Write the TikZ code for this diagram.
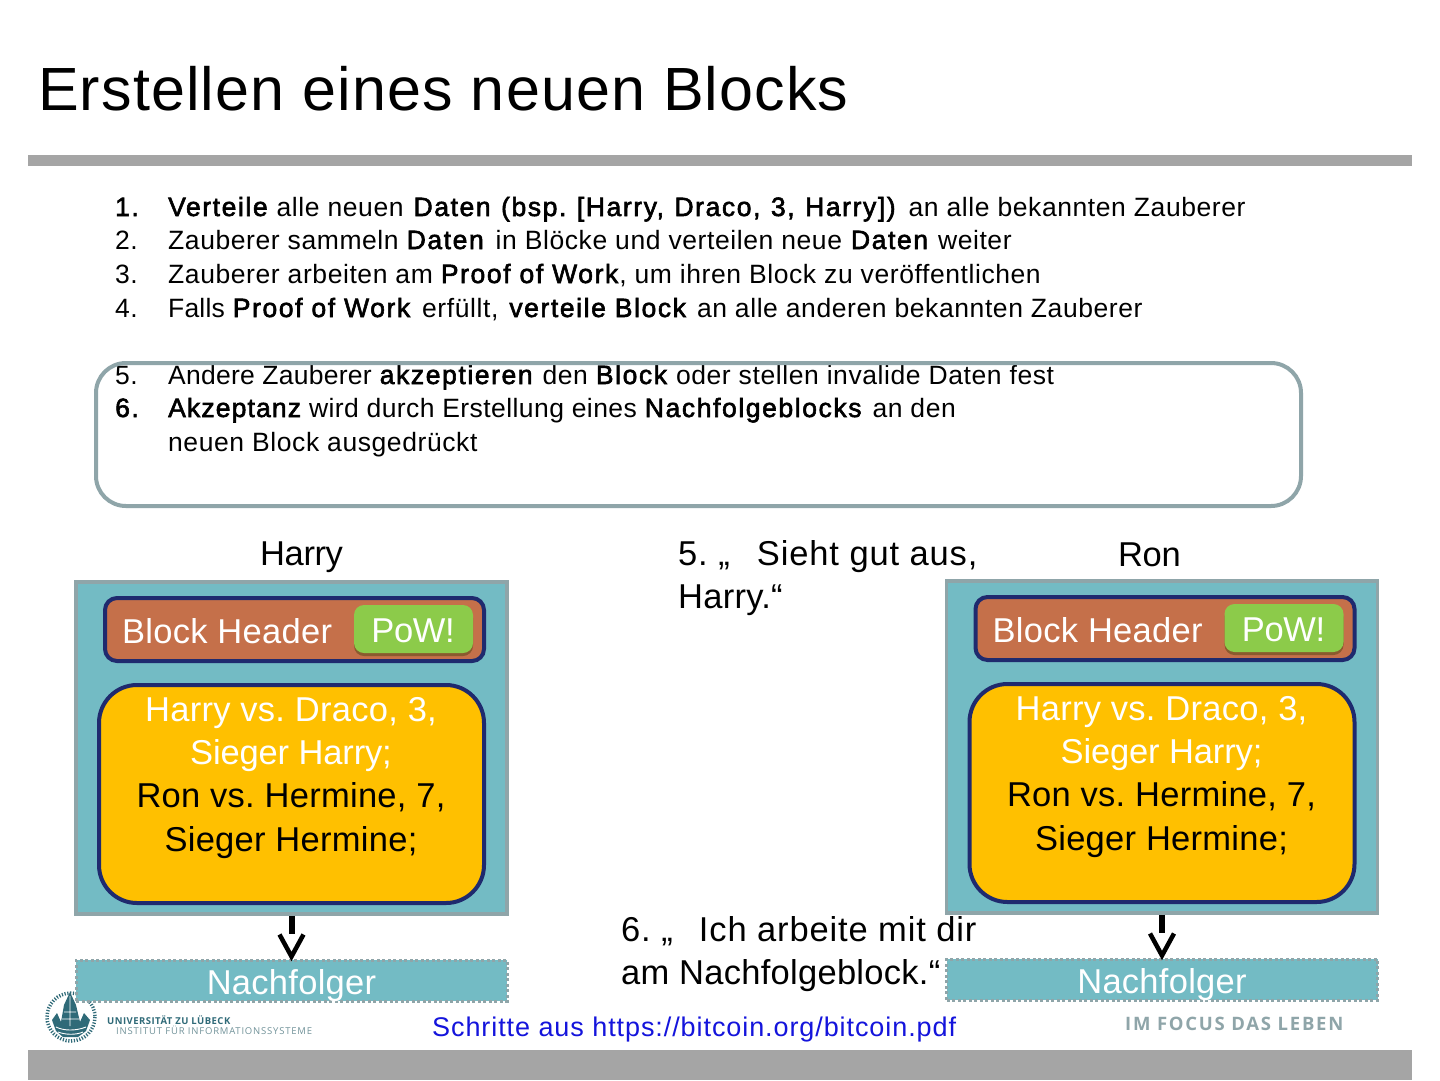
\documentclass[tikz,border=0pt]{standalone}
\usepackage{fontspec}
\setmainfont{Liberation Sans}[LetterSpace=2.2]
\newfontfamily\bfx{Liberation Sans}[FakeBold=2.2,LetterSpace=6]
\newfontfamily\bfy{Liberation Sans}[FakeBold=2.2,LetterSpace=4.3]
\newfontfamily\narA{Liberation Sans}[LetterSpace=0.95]
\newfontfamily\narB{Liberation Sans}[LetterSpace=0.7]
\newfontfamily\narC{Liberation Sans}[LetterSpace=1.6]
\newfontfamily\titlef{Liberation Sans}[LetterSpace=1.85]
\newfontfamily\bigf{Liberation Sans}[LetterSpace=0.8]
\newfontfamily\widef{Liberation Sans}[LetterSpace=2.5]
\newfontfamily\tightf{Liberation Sans}[LetterSpace=-1.2]
\newfontfamily\midf{Liberation Sans}[LetterSpace=-0.4]
\newfontfamily\linkf{Liberation Sans}[LetterSpace=3.4]
\newfontfamily\unif{Open Sans}[LetterSpace=5]
\newfontfamily\ifisf{Open Sans}[LetterSpace=8.4]
\newfontfamily\focusf{Open Sans}[LetterSpace=9.4]
\newcommand{\B}[1]{{\bfx #1}}
\newcommand{\G}[1]{\hspace{#1pt}}
\usetikzlibrary{calc}
\definecolor{bar}{HTML}{A5A5A5}
\definecolor{tealf}{HTML}{73BBC4}
\definecolor{greyt}{HTML}{8FA5A9}
\definecolor{navy}{HTML}{1F2A6E}
\definecolor{brickf}{HTML}{C5704A}
\definecolor{powg}{HTML}{8CCB4A}
\definecolor{powsh}{HTML}{8A5A2E}
\definecolor{gold}{HTML}{FFC000}
\definecolor{linkb}{HTML}{1414DC}
\definecolor{logot}{HTML}{2F6A78}
\tikzset{
 x=1pt,y=-1pt,
 listline/.style={anchor=base west,inner sep=0,font=\frenchspacing\fontsize{26.5}{30}\selectfont},
 boxline/.style={anchor=base,inner sep=0,font=\bigf\frenchspacing\fontsize{34.5}{40}\selectfont},
 block/.style={draw=greyt,line width=3.5,fill=tealf,inner sep=0,minimum width=431,minimum height=332},
 header/.style={draw=navy,line width=4,fill=brickf,rounded corners=12,inner sep=0,minimum width=379,minimum height=63},
 pow/.style={fill=powg,rounded corners=10,inner sep=0,minimum width=119,minimum height=48},
 powshadow/.style={fill=powsh,rounded corners=10,inner sep=0,minimum width=119,minimum height=48},
 data/.style={draw=navy,line width=4,fill=gold,rounded corners=38,inner sep=0,minimum width=385,minimum height=218},
 next/.style={draw=greyt,line width=3,dash pattern=on 3pt off 2.5pt,fill=tealf,inner sep=0,minimum width=431,minimum height=41},
 shaft/.style={line width=6,draw=black},
 chev/.style={line width=4.5,draw=black,line join=miter},
 caption/.style={anchor=base west,inner sep=0,font=\bigf\frenchspacing\fontsize{34.5}{40}\selectfont},
 captionw/.style={anchor=base west,inner sep=0,font=\widef\frenchspacing\fontsize{34.5}{40}\selectfont},
 captiont/.style={anchor=base west,inner sep=0,font=\tightf\frenchspacing\fontsize{34.5}{40}\selectfont},
}
\newcommand{\blockgroup}[3]{%
 \node[block] (#3b) at (#1+291.5,#2+748) {};
 \node[header] (#3h) at (#1+294.5,#2+629.5) {};
 \node[powshadow] (#3ps) at (#1+413.5,#2+632) {};
 \node[pow] (#3p) at (#1+413.5,#2+629) {};
 \node[captiont,anchor=base,text=white] (#3pt) at (#1+413,#2+642) {PoW!};
 \node[caption,text=white] (#3ht) at (#1+122,#2+643) {Block Header};
 \node[data] (#3d) at (#1+291.5,#2+794) {};
 \node[boxline,text=white] (#3l1) at (#1+291,#2+721) {Harry vs. Draco, 3,};
 \node[boxline,text=white] (#3l2) at (#1+291,#2+764) {\midf Sieger Harry;};
 \node[boxline] (#3l3) at (#1+291,#2+807) {Ron vs. Hermine, 7,};
 \node[boxline] (#3l4) at (#1+291,#2+851) {Sieger Hermine;};
 \node[next] (#3n) at (#1+291.5,#2+980.5) {};
 \node[boxline,text=white] (#3nt) at (#1+291.5,#2+994) {Nachfolger};
 \coordinate (#3s) at ($(#3b.south)+(0,18)$);
 \coordinate (#3ca) at ($(#3n.north)+(-12,-24)$);
 \coordinate (#3cb) at ($(#3n.north)+(12,-24)$);
 \draw[shaft] (#3b.south) -- (#3s);
 \draw[chev] (#3ca) -- ($(#3n.north)+(0,-2)$) -- (#3cb);
}
\begin{document}
\begin{tikzpicture}
\useasboundingbox (0,0) rectangle (1440,1080);
\fill[white] (0,0) rectangle (1440,1080);
\fill[bar] (28,155) rectangle (1412,166);
\fill[bar] (28,1050) rectangle (1412,1080);
\node[anchor=base west,inner sep=0,font=\titlef\fontsize{61}{70}\selectfont] (title) at (38,110) {Erstellen eines neuen Blocks};
\node[listline] (n1) at (115,216) {\B{1.}};
\node[listline] (t1) at (168,216) {\B{Verteile}\G{1} alle neuen\G{2} \B{\spaceskip=10.5pt Daten (bsp. [Harry, Draco, 3, Harry])}\G{5} an alle bekannten Zauberer};
\node[listline] (n2) at (115,249) {2.};
\node[listline] (t2) at (168,249) {Zauberer sammeln \B{Daten}\G{4} in Blöcke und verteilen neue\G{1} \B{Daten}\G{2} weiter};
\node[listline] (n3) at (115,283) {3.};
\node[listline] (t3) at (168,283) {Zauberer arbeiten am \B{Proof of Work}\G{1}, um ihren Block zu veröffentlichen};
\node[listline] (n4) at (115,317) {4.};
\node[listline] (t4) at (168,317) {{\narB Falls} \B{Proof of Work}\G{4} erfüllt,\G{3} \B{verteile Block}\G{3} an alle anderen bekannten Zauberer};
\node[listline] (n5) at (115,384) {5.};
\node[listline] (t5) at (168,384) {{\narA Andere Zauberer} \B{akzeptieren}\G{2} den \B{Block}\G{1} oder stellen invalide Daten fest};
\node[listline] (n6) at (115,417) {\B{6.}};
\node[listline] (t6) at (168,417) {{\bfy Akzeptanz} {\narC wird durch Erstellung eines} \B{Nachfolgeblocks}\G{3} an den};
\node[listline] (t7) at (168,451) {neuen Block ausgedrückt};
\draw[greyt,line width=4,rounded corners=30] (96,363) rectangle (1301,506);
\node[captiont] (harry) at (260,565) {Harry};
\node[captiont] (ron) at (1118,566) {Ron};
\node[captionw] (c5a) at (678,565) {5. „ \,\hspace{11pt}Sieht gut aus,};
\node[caption] (c5b) at (678,608) {Harry.“};
% logo (drawn first: the successor box overlaps its top)
\draw[logot,line width=3.5,dash pattern=on 1.2pt off 1.6pt] (71,1017) circle (24);
\fill[logot] (52,1020) -- (57,1013) -- (61,1022) -- (64,1005) -- (70,992) -- (76,1005) -- (80,1022) -- (84,1013) -- (90,1020) -- (86,1031) -- (78,1037) -- (63,1037) -- (56,1031) -- cycle;
\draw[white,line width=.9] (70,996) -- (70,1026) (56,1027) .. controls (64,1031) and (76,1031) .. (86,1027) (58,1032) .. controls (66,1035) and (76,1035) .. (83,1032) (64,1012) -- (76,1012) (62,1019) -- (79,1019);
\node[anchor=base west,inner sep=0,text=logot,font=\unif\bfseries\fontsize{9.5}{11}\selectfont] (uni) at (107,1024) {UNIVERSITÄT ZU LÜBECK};
\node[anchor=base west,inner sep=0,text=greyt!70!logot,font=\ifisf\fontsize{9.5}{11}\selectfont] (ifis) at (116,1034) {INSTITUT FÜR INFORMATIONSSYSTEME};
\node[anchor=base west,inner sep=0,text=greyt,font=\focusf\bfseries\fontsize{18.5}{22}\selectfont] (focus) at (1125,1030) {IM FOCUS DAS LEBEN};
\blockgroup{0}{0}{L}
\blockgroup{870.5}{-1}{R}
\node[captionw] (c6a) at (621,941) {6. „ \,\hspace{10pt}Ich arbeite mit dir};
\node[caption] (c6b) at (621,984) {am Nachfolgeblock.“};
\node[anchor=base west,inner sep=0,text=linkb,font=\linkf\fontsize{27}{30}\selectfont] (src) at (432,1036) {Schritte aus https://bitcoin.org/bitcoin.pdf};
\end{tikzpicture}
\end{document}
